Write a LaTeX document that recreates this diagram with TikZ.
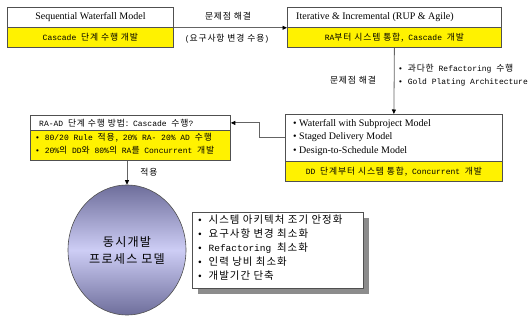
\documentclass[tikz,border=0pt]{standalone}
\usepackage{fontspec}
\setmainfont{Liberation Serif}
\setmonofont{Liberation Mono}
\newfontfamily\krf[Scale=1.1,LetterSpace=10]{Noto Sans CJK KR}
\newcommand\kr[1]{{\krf #1}}
\usetikzlibrary{arrows.meta,shapes.geometric}
\definecolor{boxline}{RGB}{80,80,80}
\definecolor{connline}{RGB}{100,100,100}
\definecolor{elldark}{RGB}{110,110,155}
\definecolor{elllight}{RGB}{205,205,245}
\begin{document}
\begin{tikzpicture}[x=1pt,y=-1pt,
  wbox/.style={draw=boxline,line width=0.8pt,fill=white,rectangle,inner sep=0pt,anchor=north west},
  ybox/.style={wbox,fill=yellow},
  serif/.style={font=\fontsize{10}{12}\selectfont,inner sep=0pt},
  mono/.style={font=\ttfamily\fontsize{8}{13}\selectfont,inner sep=0pt},
  conn/.style={draw=connline,line width=0.8pt},
  arr/.style={-{Triangle[length=4.5pt,width=4pt,black]}}
]
\useasboundingbox (0,0) rectangle (530,320);

% Box 1
\node[wbox,minimum width=166pt,minimum height=20pt,serif] (b1t) at (7,7) {Sequential Waterfall Model};
\node[ybox,minimum width=166pt,minimum height=20pt,mono] (b1y) at (7,27) {Cascade \kr{단계 수행 개발}};

% Box 2
\node[wbox,minimum width=214pt,minimum height=20pt] (b2t) at (287,7) {};
\node[serif,anchor=west] (b2tx) at (296,17) {Iterative \& Incremental (RUP \& Agile)};
\node[ybox,minimum width=214pt,minimum height=20pt,mono] (b2y) at (287,27) {RA\kr{부터 시스템 통합,} Cascade \kr{개발}};

% Arrow 1 labels
\draw[conn,arr] (b1t.south east) -- (b2t.south west);
\node[mono] (l1) at (228,16) {\kr{문제점 해결}};
\node[mono] (l2) at (227,39) {(\kr{요구사항 변경 수용})};

% Box 3
\node[wbox,minimum width=217pt,minimum height=47pt] (b3) at (285,114) {};
\node[serif,anchor=north west,align=left,font=\fontsize{10}{13.5}\selectfont] (b3tx) at (293,119)
  {• Waterfall with Subproject Model\\• Staged Delivery Model\\• Design-to-Schedule Model};
\node[ybox,minimum width=217pt,minimum height=20pt,mono] (b3y) at (285,161) {DD \kr{단계부터 시스템 통합,} Concurrent \kr{개발}};

% Arrow 2 and labels
\draw[conn,arr] (b2y.south) -- (b3.north);
\node[mono] (l3) at (353,80) {\kr{문제점 해결}};
\node[mono,anchor=north west,align=left] (l4) at (398,64) {• \kr{과다한} Refactoring \kr{수행}\\• Gold Plating Architecture};

% Box 4
\node[wbox,minimum width=200pt,minimum height=15pt] (b4t) at (30,115) {};
\node[mono,anchor=west] (b4tx) at (39,123) {RA-AD \kr{단계 수행 방법:} Cascade \kr{수행}?};
\node[ybox,minimum width=200pt,minimum height=30pt] (b4y) at (30,130) {};
\node[mono,anchor=north west,align=left] (b4yx) at (35,133) {• 80/20 Rule \kr{적용,} 20\% RA- 20\% AD \kr{수행}\\• 20\%\kr{의} DD\kr{와} 80\%\kr{의} RA\kr{를} Concurrent \kr{개발}};

% connector box3 -> box4
\draw[conn,arr] (b3.west) -- ++(-26,0) |- (b4t.east);

% Ellipse
\node[ellipse,draw=boxline,line width=0.6pt,minimum width=118pt,minimum height=130pt,
  top color=elldark,bottom color=elldark,middle color=elllight,inner sep=0pt,
  font=\fontsize{11}{17}\selectfont,align=center] (ell) at (127,250) {\kr{동시개발}\\\kr{프로세스 모델}};
\draw[conn,arr] (b4y.south -| ell.north) -- (ell.north);
\node[mono] (l5) at (149,172) {\kr{적용}};

% Box 5 with shadow
\fill[black!45] (198,218) rectangle (369,294);
\node[wbox,minimum width=171pt,minimum height=76pt] (b5) at (192,212) {};
\node[anchor=north west,align=left,inner sep=0pt,font=\ttfamily\fontsize{9.5}{14}\selectfont] (b5tx) at (197,215)
  {• \kr{시스템 아키텍처 조기 안정화}\\• \kr{요구사항 변경 최소화}\\• Refactoring \kr{최소화}\\• \kr{인력 낭비 최소화}\\• \kr{개발기간 단축}};
\end{tikzpicture}
\end{document}
